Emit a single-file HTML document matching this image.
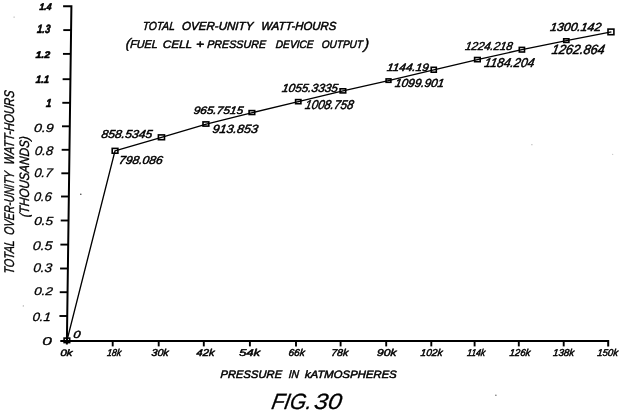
<!DOCTYPE html><html><head><meta charset="utf-8"><style>html,body{margin:0;padding:0;background:#fff;}svg{display:block;filter:grayscale(1)}</style></head><body><svg width="624" height="414" viewBox="0 0 624 414"><g stroke="#000" stroke-linecap="butt"><path d="M63.10,6.3 L71.40,6.3 L66.85,344.6" fill="none" stroke-width="2" stroke-linejoin="miter"/><line x1="63.28" y1="30.1" x2="71.08" y2="30.1" stroke-width="1.9"/><line x1="62.96" y1="53.9" x2="70.76" y2="53.9" stroke-width="1.9"/><line x1="62.62" y1="79.2" x2="70.42" y2="79.2" stroke-width="1.9"/><line x1="62.30" y1="102.8" x2="70.10" y2="102.8" stroke-width="1.9"/><line x1="61.99" y1="126.3" x2="69.79" y2="126.3" stroke-width="1.9"/><line x1="61.67" y1="149.8" x2="69.47" y2="149.8" stroke-width="1.9"/><line x1="61.35" y1="173.3" x2="69.15" y2="173.3" stroke-width="1.9"/><line x1="61.04" y1="196.5" x2="68.84" y2="196.5" stroke-width="1.9"/><line x1="60.72" y1="220.5" x2="68.52" y2="220.5" stroke-width="1.9"/><line x1="60.39" y1="244.6" x2="68.19" y2="244.6" stroke-width="1.9"/><line x1="60.07" y1="268.5" x2="67.87" y2="268.5" stroke-width="1.9"/><line x1="59.75" y1="292.2" x2="67.55" y2="292.2" stroke-width="1.9"/><line x1="59.43" y1="316.0" x2="67.23" y2="316.0" stroke-width="1.9"/><path d="M60.3,340.9 L608.20,341.0 L608.20,346.4" fill="none" stroke-width="2" stroke-linejoin="miter"/><line x1="112.7" y1="341" x2="112.7" y2="346.4" stroke-width="1.9"/><line x1="158.7" y1="341" x2="158.7" y2="346.4" stroke-width="1.9"/><line x1="203.8" y1="341" x2="203.8" y2="346.4" stroke-width="1.9"/><line x1="249.9" y1="341" x2="249.9" y2="346.4" stroke-width="1.9"/><line x1="296.0" y1="341" x2="296.0" y2="346.4" stroke-width="1.9"/><line x1="340.6" y1="341" x2="340.6" y2="346.4" stroke-width="1.9"/><line x1="386.2" y1="341" x2="386.2" y2="346.4" stroke-width="1.9"/><line x1="431.3" y1="341" x2="431.3" y2="346.4" stroke-width="1.9"/><line x1="474.6" y1="341" x2="474.6" y2="346.4" stroke-width="1.9"/><line x1="518.8" y1="341" x2="518.8" y2="346.4" stroke-width="1.9"/><line x1="563.7" y1="341" x2="563.7" y2="346.4" stroke-width="1.9"/><polyline points="67,340.3 115,150.8 161.5,137.3 206.3,124.2 252.4,112.7 298.3,101.6 343,90.8 388.5,80.6 433.8,69.8 477.4,59.6 521.9,49.7 566.4,40.6 611.4,31.8" fill="none" stroke-width="1.35" stroke-linejoin="round"/><rect x="64.10" y="338.10" width="5.60" height="4.50" fill="none" stroke-width="1.6"/><rect x="112.20" y="148.40" width="5.70" height="4.80" fill="none" stroke-width="1.6"/><rect x="158.40" y="134.90" width="6.10" height="4.80" fill="none" stroke-width="1.6"/><rect x="203.00" y="121.90" width="5.80" height="4.20" fill="none" stroke-width="1.6"/><rect x="249.10" y="110.60" width="5.60" height="3.90" fill="none" stroke-width="1.6"/><rect x="295.60" y="99.60" width="5.30" height="4.10" fill="none" stroke-width="1.6"/><rect x="340.10" y="88.80" width="5.60" height="4.10" fill="none" stroke-width="1.6"/><rect x="386.10" y="78.90" width="4.80" height="3.40" fill="none" stroke-width="1.6"/><rect x="431.20" y="67.30" width="5.10" height="4.90" fill="none" stroke-width="1.6"/><rect x="474.60" y="57.50" width="5.60" height="4.20" fill="none" stroke-width="1.6"/><rect x="519.30" y="47.40" width="5.20" height="4.60" fill="none" stroke-width="1.6"/><rect x="563.70" y="38.80" width="5.20" height="3.60" fill="none" stroke-width="1.6"/><rect x="608.00" y="29.10" width="5.90" height="5.60" fill="none" stroke-width="1.6"/></g><circle cx="80.8" cy="194.3" r="0.75" fill="#333"/><circle cx="14.1" cy="17.1" r="0.7" fill="#aaa"/><circle cx="495.9" cy="395.3" r="0.75" fill="#666"/><circle cx="23.3" cy="305.9" r="0.6" fill="#999"/><circle cx="531.9" cy="144.7" r="0.6" fill="#aaa"/><circle cx="612.7" cy="154.3" r="0.6" fill="#bbb"/><g font-family='"Liberation Sans", "DejaVu Sans", sans-serif' font-style="italic" fill="#000"><text transform="translate(142.50,29.75) skewX(-4.74)" font-size="11.71" font-weight="normal" textLength="32.13" lengthAdjust="spacingAndGlyphs" stroke="#000" stroke-width="0.5" stroke-linejoin="round">TOTAL</text><text transform="translate(181.75,29.75) skewX(-3.42)" font-size="11.73" font-weight="normal" textLength="71.39" lengthAdjust="spacingAndGlyphs" stroke="#000" stroke-width="0.5" stroke-linejoin="round">OVER-UNITY</text><text transform="translate(261.00,29.75) skewX(-3.6)" font-size="11.74" font-weight="normal" textLength="75.11" lengthAdjust="spacingAndGlyphs" stroke="#000" stroke-width="0.5" stroke-linejoin="round">WATT-HOURS</text><text transform="translate(125.60,47.75) skewX(-6)" font-size="13.71" font-weight="normal" stroke="#000" stroke-width="0.45" stroke-linejoin="round">(</text><text transform="translate(130.00,48.25) skewX(-3.81)" font-size="11.26" font-weight="normal" textLength="27.45" lengthAdjust="spacingAndGlyphs" stroke="#000" stroke-width="0.5" stroke-linejoin="round">FUEL</text><text transform="translate(162.75,48.25) skewX(-2.26)" font-size="10.92" font-weight="normal" textLength="29.20" lengthAdjust="spacingAndGlyphs" stroke="#000" stroke-width="0.5" stroke-linejoin="round">CELL</text><text transform="translate(196.00,48.25) skewX(-0.88)" font-size="11.38" font-weight="normal" textLength="8.02" lengthAdjust="spacingAndGlyphs" stroke="#000" stroke-width="0.5" stroke-linejoin="round">+</text><text transform="translate(207.00,48.25) skewX(-3.51)" font-size="10.93" font-weight="normal" textLength="58.77" lengthAdjust="spacingAndGlyphs" stroke="#000" stroke-width="0.5" stroke-linejoin="round">PRESSURE</text><text transform="translate(275.50,48.25) skewX(-4.05)" font-size="10.92" font-weight="normal" textLength="37.87" lengthAdjust="spacingAndGlyphs" stroke="#000" stroke-width="0.5" stroke-linejoin="round">DEVICE</text><text transform="translate(321.50,48.25) skewX(-4.23)" font-size="10.92" font-weight="normal" textLength="41.15" lengthAdjust="spacingAndGlyphs" stroke="#000" stroke-width="0.5" stroke-linejoin="round">OUTPUT</text><text transform="translate(363.75,48.50) skewX(-6)" font-size="14.41" font-weight="normal" stroke="#000" stroke-width="0.45" stroke-linejoin="round">)</text><text transform="translate(39.25,9.75) skewX(-4.67)" font-size="9.58" font-weight="bold" textLength="11.99" lengthAdjust="spacingAndGlyphs" stroke="#000" stroke-width="0.6" stroke-linejoin="round">1.4</text><text transform="translate(36.75,33.25) skewX(-5.87)" font-size="11.99" font-weight="bold" textLength="13.25" lengthAdjust="spacingAndGlyphs" stroke="#000" stroke-width="0.6" stroke-linejoin="round">1.3</text><text transform="translate(35.50,58.00) skewX(-2.65)" font-size="9.58" font-weight="bold" textLength="14.40" lengthAdjust="spacingAndGlyphs" stroke="#000" stroke-width="0.6" stroke-linejoin="round">1.2</text><text transform="translate(35.50,83.25) skewX(-4.45)" font-size="10.71" font-weight="bold" textLength="13.53" lengthAdjust="spacingAndGlyphs" stroke="#000" stroke-width="0.6" stroke-linejoin="round">1.1</text><text transform="translate(45.75,106.75) skewX(-5.44)" font-size="11.72" font-weight="bold" textLength="5.38" lengthAdjust="spacingAndGlyphs" stroke="#000" stroke-width="0.6" stroke-linejoin="round">1</text><text transform="translate(33.75,131.50) skewX(-4.64)" font-size="11.98" font-weight="normal" textLength="19.72" lengthAdjust="spacingAndGlyphs" stroke="#000" stroke-width="0.3" stroke-linejoin="round">0.9</text><text transform="translate(34.50,154.75) skewX(-5.79)" font-size="12.51" font-weight="normal" textLength="18.44" lengthAdjust="spacingAndGlyphs" stroke="#000" stroke-width="0.3" stroke-linejoin="round">0.8</text><text transform="translate(34.00,177.25) skewX(-6.1)" font-size="12.51" font-weight="normal" textLength="18.13" lengthAdjust="spacingAndGlyphs" stroke="#000" stroke-width="0.3" stroke-linejoin="round">0.7</text><text transform="translate(33.50,200.75) skewX(-6.13)" font-size="12.51" font-weight="normal" textLength="17.90" lengthAdjust="spacingAndGlyphs" stroke="#000" stroke-width="0.3" stroke-linejoin="round">0.6</text><text transform="translate(34.00,224.75) skewX(-4.32)" font-size="11.65" font-weight="normal" textLength="18.97" lengthAdjust="spacingAndGlyphs" stroke="#000" stroke-width="0.3" stroke-linejoin="round">0.5</text><text transform="translate(32.50,249.75) skewX(-4.95)" font-size="12.64" font-weight="normal" textLength="19.77" lengthAdjust="spacingAndGlyphs" stroke="#000" stroke-width="0.3" stroke-linejoin="round">0.5</text><text transform="translate(33.00,272.00) skewX(-5.6)" font-size="12.64" font-weight="normal" textLength="18.87" lengthAdjust="spacingAndGlyphs" stroke="#000" stroke-width="0.3" stroke-linejoin="round">0.3</text><text transform="translate(34.00,295.00) skewX(-3.88)" font-size="11.22" font-weight="normal" textLength="18.68" lengthAdjust="spacingAndGlyphs" stroke="#000" stroke-width="0.3" stroke-linejoin="round">0.2</text><text transform="translate(32.25,321.00) skewX(-5.33)" font-size="12.02" font-weight="normal" textLength="18.36" lengthAdjust="spacingAndGlyphs" stroke="#000" stroke-width="0.3" stroke-linejoin="round">0.1</text><text transform="translate(42.25,344.75) skewX(-0.19)" font-size="11.34" font-weight="normal" textLength="9.62" lengthAdjust="spacingAndGlyphs" stroke="#000" stroke-width="0.3" stroke-linejoin="round">0</text><text transform="translate(60.15,355.75) skewX(-3.44)" font-size="9.37" font-weight="normal" textLength="12.15" lengthAdjust="spacingAndGlyphs" stroke="#000" stroke-width="0.5" stroke-linejoin="round">0k</text><text transform="translate(106.75,356.20) skewX(-7.58)" font-size="9.91" font-weight="normal" textLength="14.12" lengthAdjust="spacingAndGlyphs" stroke="#000" stroke-width="0.5" stroke-linejoin="round">18k</text><text transform="translate(151.25,356.20) skewX(-5.38)" font-size="9.91" font-weight="normal" textLength="17.19" lengthAdjust="spacingAndGlyphs" stroke="#000" stroke-width="0.5" stroke-linejoin="round">30k</text><text transform="translate(196.25,356.20) skewX(-4.66)" font-size="9.91" font-weight="normal" textLength="17.99" lengthAdjust="spacingAndGlyphs" stroke="#000" stroke-width="0.5" stroke-linejoin="round">42k</text><text transform="translate(239.00,356.20) skewX(-2.29)" font-size="9.91" font-weight="normal" textLength="21.20" lengthAdjust="spacingAndGlyphs" stroke="#000" stroke-width="0.5" stroke-linejoin="round">54k</text><text transform="translate(288.25,356.20) skewX(-6.06)" font-size="9.91" font-weight="normal" textLength="16.26" lengthAdjust="spacingAndGlyphs" stroke="#000" stroke-width="0.5" stroke-linejoin="round">66k</text><text transform="translate(331.00,356.20) skewX(-5.44)" font-size="9.91" font-weight="normal" textLength="16.97" lengthAdjust="spacingAndGlyphs" stroke="#000" stroke-width="0.5" stroke-linejoin="round">78k</text><text transform="translate(376.75,356.20) skewX(-3.55)" font-size="9.91" font-weight="normal" textLength="19.53" lengthAdjust="spacingAndGlyphs" stroke="#000" stroke-width="0.5" stroke-linejoin="round">90k</text><text transform="translate(420.25,356.20) skewX(-6.04)" font-size="9.91" font-weight="normal" textLength="21.94" lengthAdjust="spacingAndGlyphs" stroke="#000" stroke-width="0.5" stroke-linejoin="round">102k</text><text transform="translate(466.75,356.20) skewX(-7.8)" font-size="9.91" font-weight="normal" textLength="18.13" lengthAdjust="spacingAndGlyphs" stroke="#000" stroke-width="0.5" stroke-linejoin="round">114k</text><text transform="translate(509.25,356.20) skewX(-6.57)" font-size="9.91" font-weight="normal" textLength="20.77" lengthAdjust="spacingAndGlyphs" stroke="#000" stroke-width="0.5" stroke-linejoin="round">126k</text><text transform="translate(552.75,356.20) skewX(-6.46)" font-size="9.91" font-weight="normal" textLength="21.05" lengthAdjust="spacingAndGlyphs" stroke="#000" stroke-width="0.5" stroke-linejoin="round">138k</text><text transform="translate(597.00,356.20) skewX(-6.69)" font-size="9.91" font-weight="normal" textLength="20.70" lengthAdjust="spacingAndGlyphs" stroke="#000" stroke-width="0.5" stroke-linejoin="round">150k</text><text transform="translate(220.25,377.75) skewX(-2.91)" font-size="10.93" font-weight="normal" textLength="61.62" lengthAdjust="spacingAndGlyphs" stroke="#000" stroke-width="0.5" stroke-linejoin="round">PRESSURE</text><text transform="translate(288.50,377.75) skewX(-4.51)" font-size="11.26" font-weight="normal" textLength="10.29" lengthAdjust="spacingAndGlyphs" stroke="#000" stroke-width="0.5" stroke-linejoin="round">IN</text><text transform="translate(304.75,377.75) skewX(-2.48)" font-size="10.67" font-weight="normal" textLength="91.88" lengthAdjust="spacingAndGlyphs" stroke="#000" stroke-width="0.5" stroke-linejoin="round">kATMOSPHERES</text><text transform="translate(270.75,409.25) skewX(-10.28)" font-size="22.10" font-weight="normal" textLength="40.17" lengthAdjust="spacingAndGlyphs" stroke="#000" stroke-width="0.3" stroke-linejoin="round">FIG.</text><text transform="translate(313.55,409.25) skewX(-8.09)" font-size="22.10" font-weight="normal" textLength="27.42" lengthAdjust="spacingAndGlyphs" stroke="#000" stroke-width="0.3" stroke-linejoin="round">30</text><text transform="translate(73.00,337.50) skewX(-7.14)" font-size="10.34" font-weight="normal" textLength="7.10" lengthAdjust="spacingAndGlyphs" stroke="#000" stroke-width="0.5" stroke-linejoin="round">0</text><text transform="translate(118.60,164.05) skewX(-9.22)" font-size="11.52" font-weight="normal" textLength="43.58" lengthAdjust="spacingAndGlyphs" stroke="#000" stroke-width="0.5" stroke-linejoin="round">798.086</text><text transform="translate(101.00,138.25) skewX(-9.1)" font-size="11.53" font-weight="normal" textLength="50.68" lengthAdjust="spacingAndGlyphs" stroke="#000" stroke-width="0.5" stroke-linejoin="round">858.5345</text><text transform="translate(212.00,132.50) skewX(-9.22)" font-size="11.93" font-weight="normal" textLength="45.50" lengthAdjust="spacingAndGlyphs" stroke="#000" stroke-width="0.5" stroke-linejoin="round">913.853</text><text transform="translate(193.25,113.50) skewX(-8.51)" font-size="10.79" font-weight="normal" textLength="49.54" lengthAdjust="spacingAndGlyphs" stroke="#000" stroke-width="0.5" stroke-linejoin="round">965.7515</text><text transform="translate(304.50,109.25) skewX(-10.83)" font-size="12.74" font-weight="normal" textLength="48.40" lengthAdjust="spacingAndGlyphs" stroke="#000" stroke-width="0.5" stroke-linejoin="round">1008.758</text><text transform="translate(281.50,92.00) skewX(-9.64)" font-size="11.69" font-weight="normal" textLength="55.91" lengthAdjust="spacingAndGlyphs" stroke="#000" stroke-width="0.5" stroke-linejoin="round">1055.3335</text><text transform="translate(394.50,87.25) skewX(-9.65)" font-size="11.69" font-weight="normal" textLength="49.14" lengthAdjust="spacingAndGlyphs" stroke="#000" stroke-width="0.5" stroke-linejoin="round">1099.901</text><text transform="translate(386.50,70.75) skewX(-8.24)" font-size="10.73" font-weight="normal" textLength="41.96" lengthAdjust="spacingAndGlyphs" stroke="#000" stroke-width="0.5" stroke-linejoin="round">1144.19</text><text transform="translate(483.75,66.50) skewX(-10.32)" font-size="12.74" font-weight="normal" textLength="49.97" lengthAdjust="spacingAndGlyphs" stroke="#000" stroke-width="0.5" stroke-linejoin="round">1184.204</text><text transform="translate(464.80,50.00) skewX(-9.96)" font-size="11.57" font-weight="normal" textLength="47.35" lengthAdjust="spacingAndGlyphs" stroke="#000" stroke-width="0.5" stroke-linejoin="round">1224.218</text><text transform="translate(551.25,53.75) skewX(-10.12)" font-size="13.39" font-weight="normal" textLength="52.87" lengthAdjust="spacingAndGlyphs" stroke="#000" stroke-width="0.5" stroke-linejoin="round">1262.864</text><text transform="translate(549.75,30.75) skewX(-9.09)" font-size="11.71" font-weight="normal" textLength="50.97" lengthAdjust="spacingAndGlyphs" stroke="#000" stroke-width="0.5" stroke-linejoin="round">1300.142</text><text transform="translate(13.50,274.25) rotate(-90) skewX(-6.04)" font-size="14.07" textLength="33.89" lengthAdjust="spacingAndGlyphs" stroke="#000" stroke-width="0.35" stroke-linejoin="round">TOTAL</text><text transform="translate(13.50,235.25) rotate(-90) skewX(-6.45)" font-size="14.05" textLength="63.34" lengthAdjust="spacingAndGlyphs" stroke="#000" stroke-width="0.35" stroke-linejoin="round">OVER-UNITY</text><text transform="translate(13.50,165.00) rotate(-90) skewX(-5.67)" font-size="14.12" textLength="74.14" lengthAdjust="spacingAndGlyphs" stroke="#000" stroke-width="0.35" stroke-linejoin="round">WATT-HOURS</text><text transform="translate(29.00,217.50) rotate(-90) skewX(-5.04)" font-size="13.62" textLength="80.77" lengthAdjust="spacingAndGlyphs" stroke="#000" stroke-width="0.35" stroke-linejoin="round">(THOUSANDS)</text></g></svg></body></html>
